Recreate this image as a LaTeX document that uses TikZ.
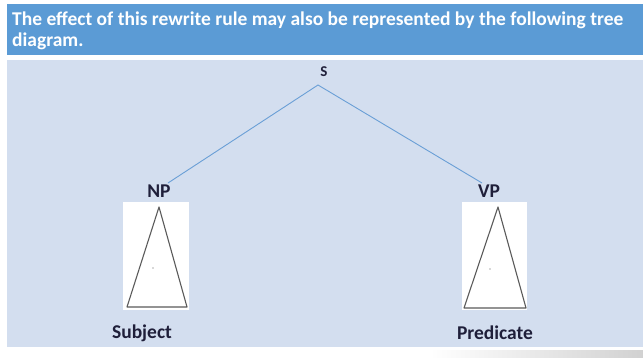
\documentclass[tikz,border=0pt]{standalone}
\usepackage{fontspec}
\setmainfont{Carlito}
\usetikzlibrary{shadings}
\definecolor{headblue}{HTML}{5B9BD5}
\definecolor{panelblue}{HTML}{D3DEEF}
\definecolor{edgeblue}{HTML}{6A9FD6}
\definecolor{labelink}{HTML}{1F1F3A}
\definecolor{sketchgrey}{HTML}{5A5A5A}
\tikzset{
  treelabel/.style={font=\fontsize{19.5}{22}\selectfont\bfseries, text=labelink, inner sep=0pt},
  branch/.style={draw=edgeblue, line width=0.9pt},
  sketchcard/.style={fill=white, draw=none},
  sketchtri/.style={draw=sketchgrey, line width=1.1pt, line join=round}
}
\begin{document}
\begin{tikzpicture}[x=1pt,y=-1pt]
  \useasboundingbox (0,0) rectangle (643,358);
  \fill[white] (0,0) rectangle (643,358);
  % title band
  \fill[headblue] (7,4) rectangle (643,55);
  \node[anchor=north west, inner sep=0pt, text=white, align=left,
        font=\fontsize{19.5}{20.5}\selectfont\bfseries] (title) at (12,12)
    {The effect of this rewrite rule may also be represented by the following tree\\diagram.};
  % diagram panel
  \fill[panelblue] (7,60) rectangle (643,347);
  % faint grey sweep along the bottom edge
  \shade[left color=white, right color=black!18] (430,350) rectangle (643,358);
  % tree labels
  \node[treelabel, font=\fontsize{15}{17}\selectfont\bfseries] (S) at (324,72) {S};
  \node[treelabel] (NP) at (159,191) {NP};
  \node[treelabel] (VP) at (489,191) {VP};
  \coordinate (sb) at (318,85);
  \coordinate (npt) at (168,183);
  \coordinate (vpt) at (482,183);
  \draw[branch] (npt) -- (sb) -- (vpt);
  % triangle sketches under NP and VP
  \fill[sketchcard] (123,202) rectangle (189,310);
  \draw[sketchtri] (159,207) -- (187,307) -- (127,307) -- cycle;
  \fill[sketchgrey] (153,268) circle (0.7);
  \fill[sketchcard] (462,202) rectangle (527,310);
  \draw[sketchtri] (498,207) -- (526,308) -- (464,308) -- cycle;
  \fill[sketchgrey] (490,269) circle (0.7);
  \node[treelabel] (subj) at (142,333) {Subject};
  \node[treelabel] (pred) at (495,333) {Predicate};
\end{tikzpicture}
\end{document}
